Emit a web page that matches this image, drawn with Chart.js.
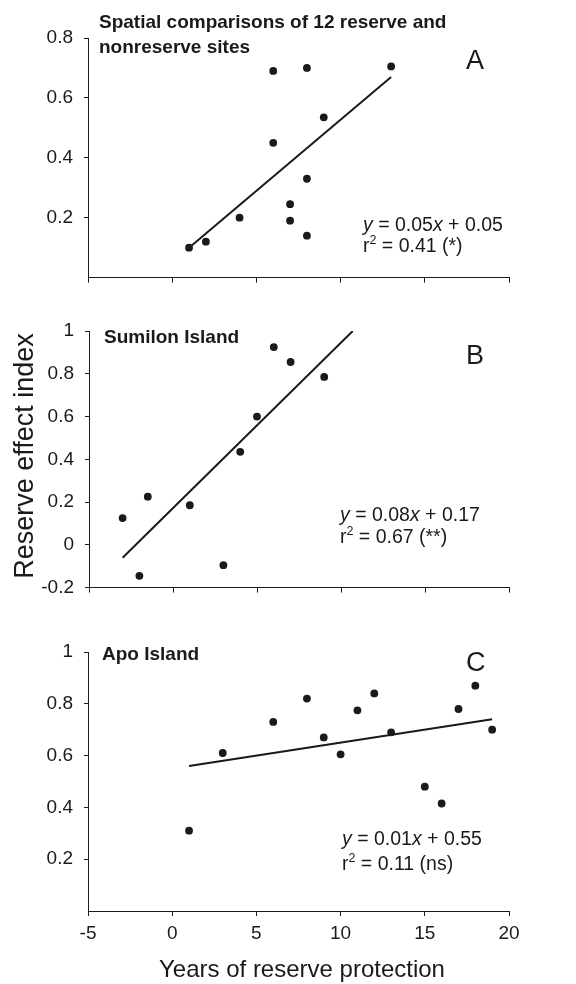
<!DOCTYPE html>
<html>
<head>
<meta charset="utf-8">
<script src="https://cdn.jsdelivr.net/npm/chart.js@4.4.0/dist/chart.umd.min.js"></script>
<style>
  body { margin: 0; background: #fff; }
  #wrap { position: relative; width: 576px; height: 984px; overflow: hidden; }
  .panel { position: absolute; left: 0; width: 576px; }
</style>
</head>
<body>
<div id="wrap">
  <div class="panel" style="top:0;height:300px"><canvas id="chartA"></canvas></div>
  <div class="panel" style="top:300px;height:310px"><canvas id="chartB"></canvas></div>
  <div class="panel" style="top:610px;height:374px"><canvas id="chartC"></canvas></div>
</div>
<script>
// data
const xTicks = [-5, 0, 5, 10, 15, 20];

const aYears = [1, 2, 4, 6, 6, 7, 7, 8, 8, 8, 9, 13];
const aIndex = [0.10, 0.12, 0.20, 0.69, 0.45, 0.245, 0.19, 0.70, 0.33, 0.14, 0.535, 0.705];
const aFitX = [1, 13];
const aFitY = [0.10, 0.67];

const bYears = [-3, -2, -1.5, 1, 3, 4, 5, 6, 7, 9];
const bIndex = [0.125, -0.145, 0.225, 0.185, -0.095, 0.435, 0.60, 0.925, 0.855, 0.785];
const bFitX = [-3, 10.7];
const bFitY = [-0.06, 1.0];

const cYears = [1, 3, 6, 8, 9, 10, 11, 12, 13, 15, 16, 17, 18, 19];
const cIndex = [0.31, 0.61, 0.73, 0.82, 0.67, 0.605, 0.775, 0.84, 0.69, 0.48, 0.415, 0.78, 0.87, 0.70];
const cFitX = [1, 19];
const cFitY = [0.56, 0.74];

const FONT = '"Liberation Sans", Arial, Helvetica, sans-serif';
const INK = '#1a1a1a';

// plugin kecil untuk teks (judul panel, huruf, persamaan)
const panelText = {
    id: 'panelText',
    afterDraw(chart, args, opts) {
        const c = chart.ctx;
        (opts.items || []).forEach(item => {
            c.save();
            c.fillStyle = INK;
            c.textBaseline = 'alphabetic';
            c.translate(item.x, item.y);
            if (item.rotate) c.rotate(item.rotate);
            // hitung lebar total kalau center
            let total = 0;
            item.runs.forEach(r => {
                c.font = r.font;
                total += c.measureText(r.t).width;
            });
            let x = item.align === 'center' ? -total / 2 : 0;
            item.runs.forEach(r => {
                c.font = r.font;
                c.fillText(r.t, x, r.dy || 0);
                x += c.measureText(r.t).width;
            });
            c.restore();
        });
    }
};

function plain(t, size) { return { t: t, font: size + 'px ' + FONT }; }
function bold(t, size) { return { t: t, font: 'bold ' + size + 'px ' + FONT }; }
function ital(t, size) { return { t: t, font: 'italic ' + size + 'px ' + FONT }; }
function sup(t, size) { return { t: t, font: size + 'px ' + FONT, dy: -8 }; }

function eqLines(x, y1, y2, slope, icpt, r2) {
    return [
        { x: x, y: y1, runs: [ital('y', 19.5), plain(' = ' + slope, 19.5), ital('x', 19.5), plain(' + ' + icpt, 19.5)] },
        { x: x, y: y2, runs: [plain('r', 19.5), sup('2', 12.5), plain(' = ' + r2, 19.5)] }
    ];
}

function toPoints(xs, ys) {
    return xs.map((x, i) => ({ x: x, y: ys[i] }));
}

function makePanel(id, p) {
    return new Chart(document.getElementById(id), {
        type: 'scatter',
        data: {
            datasets: [{
                data: toPoints(p.xs, p.ys),
                pointRadius: 3.9,
                pointBackgroundColor: INK,
                pointBorderWidth: 0
            }, {
                data: toPoints(p.fitX, p.fitY),
                showLine: true,
                borderColor: INK,
                borderWidth: 2,
                pointRadius: 0
            }]
        },
        options: {
            responsive: true,
            maintainAspectRatio: false,
            animation: false,
            layout: { padding: { top: p.top, right: 67, left: 0, bottom: 0 } },
            scales: {
                x: {
                    type: 'linear',
                    min: xTicks[0],
                    max: xTicks[xTicks.length - 1],
                    afterBuildTicks: s => { s.ticks = xTicks.map(v => ({ value: v })); },
                    afterFit: s => { s.height = p.xHeight; },
                    border: { display: true, color: INK, width: 1 },
                    grid: { drawOnChartArea: false, drawTicks: true, tickLength: 5, color: INK },
                    ticks: {
                        display: p.xLabels,
                        padding: 6,
                        color: INK,
                        font: { family: FONT, size: 19 }
                    }
                },
                y: {
                    min: p.yMin,
                    max: p.yMax,
                    afterFit: s => { s.width = p.left; },
                    border: { display: true, color: INK, width: 1 },
                    grid: {
                        drawOnChartArea: false,
                        drawTicks: true,
                        tickLength: 4,
                        color: ctx => (p.hideZero && ctx.tick && Math.abs(ctx.tick.value) < 1e-9) ? 'rgba(0,0,0,0)' : INK
                    },
                    ticks: {
                        stepSize: 0.2,
                        padding: 11,
                        color: INK,
                        font: { family: FONT, size: 19 },
                        callback: v => (p.hideZero && Math.abs(v) < 1e-9) ? '' : String(Number(v.toFixed(1)))
                    }
                }
            },
            plugins: {
                legend: { display: false },
                tooltip: { enabled: false },
                panelText: { items: p.texts }
            }
        },
        plugins: [panelText]
    });
}

makePanel('chartA', {
    xs: aYears, ys: aIndex, fitX: aFitX, fitY: aFitY,
    yMin: 0, yMax: 0.8, hideZero: true,
    top: 38, left: 88, xHeight: 14, xLabels: false,
    texts: [
        { x: 99, y: 28, runs: [bold('Spatial comparisons of 12 reserve and', 19)] },
        { x: 99, y: 53, runs: [bold('nonreserve sites', 19)] },
        { x: 466, y: 69, runs: [plain('A', 27)] }
    ].concat(eqLines(363, 231, 252, '0.05', '0.05', '0.41 (*)'))
});

makePanel('chartB', {
    xs: bYears, ys: bIndex, fitX: bFitX, fitY: bFitY,
    yMin: -0.2, yMax: 1, hideZero: false,
    top: 31, left: 89, xHeight: 18, xLabels: false,
    texts: [
        { x: 104, y: 43, runs: [bold('Sumilon Island', 19)] },
        { x: 466, y: 64, runs: [plain('B', 27)] },
        { x: 33, y: 156, rotate: -Math.PI / 2, align: 'center', runs: [plain('Reserve effect index', 27)] }
    ].concat(eqLines(340, 221, 243, '0.08', '0.17', '0.67 (**)'))
});

makePanel('chartC', {
    xs: cYears, ys: cIndex, fitX: cFitX, fitY: cFitY,
    yMin: 0, yMax: 1, hideZero: true,
    top: 42, left: 88, xHeight: 73, xLabels: true,
    texts: [
        { x: 102, y: 50, runs: [bold('Apo Island', 19)] },
        { x: 466, y: 61, runs: [plain('C', 27)] },
        { x: 302, y: 367, align: 'center', runs: [plain('Years of reserve protection', 24)] }
    ].concat(eqLines(342, 235, 260, '0.01', '0.55', '0.11 (ns)'))
});
</script>
</body>
</html>
